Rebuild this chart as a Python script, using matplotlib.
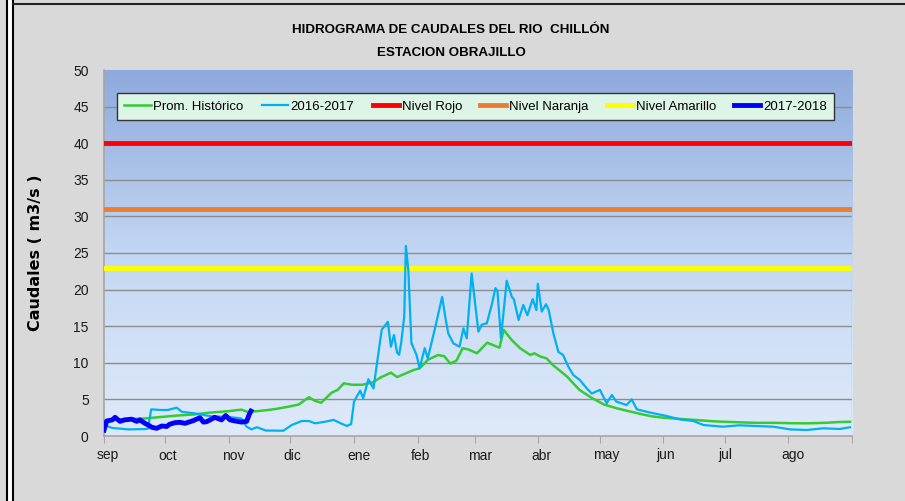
import matplotlib
matplotlib.use("Agg")
import matplotlib.pyplot as plt
import numpy as np
import matplotlib.transforms as mtransforms
from matplotlib.lines import Line2D
from matplotlib.patches import Rectangle
from matplotlib.colors import LinearSegmentedColormap

# ---------------- data ----------------
months = ["sep", "oct", "nov", "dic", "ene", "feb", "mar", "abr", "may", "jun", "jul", "ago"]
month_start_day = [0, 30, 61, 91, 122, 153, 181, 212, 242, 273, 303, 334, 365]

hist_day = [0, 5, 12, 20, 28, 36, 44, 52, 61, 67, 70, 75, 80, 85, 90, 95, 100, 103, 106, 111,
            114, 117, 121, 126, 131, 135, 140, 143, 148, 151, 154, 158, 163, 166, 169, 172,
            175, 178, 182, 187, 190, 193, 195, 199, 203, 208, 210, 213, 216, 219, 223, 226,
            232, 238, 244, 250, 255, 262, 267, 273, 280, 288, 298, 310, 318, 327, 335, 343,
            352, 358, 364]
hist_val = [1.95, 2.2, 2.3, 2.4, 2.6, 2.8, 2.95, 3.2, 3.4, 3.6, 3.3, 3.4, 3.55, 3.75, 4.0, 4.3,
            5.3, 4.8, 4.55, 5.9, 6.3, 7.2, 7.0, 7.0, 7.3, 8.0, 8.65, 8.05, 8.65, 9.0, 9.25, 10.4,
            11.07, 10.9, 9.9, 10.3, 12.0, 11.8, 11.3, 12.75, 12.4, 12.07, 14.5, 13.1, 12.0,
            11.07, 11.3, 10.85, 10.6, 9.7, 8.8, 8.1, 6.3, 5.2, 4.3, 3.8, 3.46, 3.0, 2.7, 2.5,
            2.35, 2.2, 2.0, 1.87, 1.8, 1.8, 1.75, 1.73, 1.8, 1.9, 1.95]

y1617_day = [0, 4, 8, 12, 20, 21.5, 23, 28, 31, 35.5, 38, 44, 52, 61, 67, 69.6, 72, 74.5, 79,
             87.5, 91.6, 96.5, 100, 103, 108, 112, 115, 118.5, 120.6, 122, 125, 126.5, 129,
             131.5, 135.5, 138.5, 140, 141.5, 143, 144, 145, 146.5, 147.3, 148.5, 150, 152.5,
             154, 156.5, 158, 161.5, 165, 166.5, 168, 170.5, 173.5, 175.4, 177, 179.4, 182.7,
             184.3, 186.8, 189.2, 191, 192, 193.7, 196.5, 199, 200, 202.3, 204.6, 206.6, 209.2,
             211, 211.7, 213.6, 215.7, 217, 219.3, 221.7, 224, 226.6, 229, 232.2, 235.6, 238,
             242, 245.3, 247.8, 250, 255, 257.5, 260, 266.5, 274.6, 281, 287.6, 292.5, 302,
             310, 326.6, 334.8, 343, 351, 359, 364]
y1617_val = [1.5, 1.1, 1.0, 0.9, 0.95, 1.0, 3.64, 3.55, 3.55, 3.87, 3.3, 3.1, 2.7, 2.6, 2.4,
             1.27, 0.9, 1.2, 0.75, 0.72, 1.5, 2.05, 2.05, 1.73, 1.95, 2.2, 1.8, 1.37, 1.64, 4.7,
             6.2, 5.15, 7.75, 6.5, 14.5, 15.6, 12.2, 13.8, 11.4, 11.1, 12.7, 16.3, 25.96, 22.7,
             12.7, 11.07, 9.25, 12.0, 10.6, 14.7, 19.0, 16.3, 14.0, 12.65, 12.2, 14.7, 13.35,
             22.2, 14.25, 15.2, 15.4, 17.9, 20.2, 19.8, 13.35, 21.2, 19.0, 18.7, 15.85, 17.9,
             16.5, 18.7, 17.2, 20.8, 17.0, 18.0, 17.2, 14.0, 11.5, 11.07, 9.47, 8.33, 7.65,
             6.5, 5.8, 6.3, 4.47, 5.6, 4.7, 4.23, 5.0, 3.64, 3.2, 2.73, 2.27, 2.05, 1.5, 1.27,
             1.46, 1.27, 0.9, 0.82, 1.05, 0.96, 1.19]

y1718_day = [0, 1.3, 4, 5.4, 7.8, 10, 13.5, 16, 17.5, 20, 21.6, 23.3, 25.7, 28.2, 30.6, 32,
             34.6, 37, 39.5, 43.6, 46.8, 48.5, 50, 51.8, 54, 57.4, 59.4, 61.5, 64, 67.2, 69.6,
             70.8, 71.7]
y1718_val = [0.8, 2.05, 2.2, 2.55, 2.0, 2.2, 2.3, 2.0, 2.2, 1.73, 1.5, 1.19, 1.05, 1.37, 1.3,
             1.6, 1.82, 1.87, 1.73, 2.1, 2.5, 1.9, 1.95, 2.2, 2.55, 2.2, 2.8, 2.2, 2.05, 1.9,
             2.0, 2.9, 3.4]

nivel_rojo = 40
nivel_naranja = 31
nivel_amarillo = 23

# ---------------- figure ----------------
W, H = 905, 501
fig = plt.figure(figsize=(W / 100, H / 100), dpi=100)
fig.patch.set_facecolor("#d9d9d9")

def fx(px):
    return px / W

def fy(py):
    return 1 - py / H

# outer frame decorations
fig.add_artist(Rectangle((fx(7), 0), fx(5), 1, transform=fig.transFigure,
                         facecolor="white", edgecolor="none", zorder=0))
fig.add_artist(Line2D([fx(6.5), fx(6.5)], [0, 1], transform=fig.transFigure,
                      color="black", lw=1.5))
fig.add_artist(Line2D([fx(12.8), fx(12.8)], [0, 1], transform=fig.transFigure,
                      color="black", lw=1.5))
fig.add_artist(Line2D([fx(12.8), 1], [fy(3.5), fy(3.5)], transform=fig.transFigure,
                      color="#222222", lw=1.5))

ax = fig.add_axes([fx(104), fy(436), fx(852) - fx(104), fy(70) - fy(436)])
ax.set_xlim(0, 365)
ax.set_ylim(0, 50)

# gradient background
cmap = LinearSegmentedColormap.from_list("bg", ["#dfeaf9", "#c3d7f3", "#8eaadc"])
grad = np.linspace(0, 1, 256).reshape(-1, 1)
ax.imshow(grad, extent=[0, 365, 0, 50], origin="lower", aspect="auto",
          cmap=cmap, zorder=0, interpolation="bicubic")
ax.set_facecolor("#dfeaf9")

# grid
for v in range(5, 50, 5):
    ax.axhline(v, color="#8c8c8c", lw=1.0, zorder=1)

# level lines
ax.axhline(nivel_rojo, color="#ff0000", lw=3.5, zorder=3, label="Nivel Rojo")
ax.axhline(nivel_naranja, color="#ed7d31", lw=3.5, zorder=3, label="Nivel Naranja")
ax.axhline(nivel_amarillo, color="#ffff00", lw=3.5, zorder=3, label="Nivel Amarillo")

ax.plot(hist_day, hist_val, color="#33cc33", lw=1.8, zorder=4, label="Prom. Histórico")
ax.plot(y1617_day, y1617_val, color="#00b0f0", lw=1.6, zorder=5, label="2016-2017")
ax.plot(y1718_day, y1718_val, color="#0000ff", lw=3.5, zorder=6, label="2017-2018")

# axes styling
for s in ["top", "right"]:
    ax.spines[s].set_visible(False)
ax.spines["left"].set_color("#a6a6a6")
ax.spines["bottom"].set_color("#a6a6a6")
ax.spines["left"].set_linewidth(1.2)
ax.spines["bottom"].set_linewidth(1.2)
ax.axvline(365, color="#c0c0c0", lw=1.0, zorder=1)

tick_font = dict(family=["Liberation Sans", "DejaVu Sans"])
ax.set_yticks(range(0, 51, 5))
ax.set_yticklabels([str(v) for v in range(0, 51, 5)], fontsize=10, color="#1a1a1a", **tick_font)
ax.tick_params(axis="y", length=0, pad=11)
ax.set_xticks(month_start_day)
ax.set_xticklabels(months + [""], fontsize=10, color="#1a1a1a", **tick_font)
ax.tick_params(axis="x", length=5, color="#a6a6a6", pad=4, direction="out")
offset = mtransforms.ScaledTranslation(-7 / 100, 0, fig.dpi_scale_trans)
for lbl in ax.get_xticklabels():
    lbl.set_horizontalalignment("left")
    lbl.set_transform(lbl.get_transform() + offset)

ax.set_ylabel("Caudales ( m3/s )", fontsize=11.5, fontweight="bold", labelpad=22,
              family=["DejaVu Sans"])

# title
title_font = ["Liberation Sans", "DejaVu Sans"]
fig.text(fx(451), fy(30), "HIDROGRAMA DE CAUDALES DEL RIO  CHILLÓN", ha="center", va="center",
         fontsize=9.6, fontweight="bold", family=title_font)
fig.text(fx(451), fy(53), "ESTACION OBRAJILLO", ha="center", va="center",
         fontsize=9.6, fontweight="bold", family=title_font)

# legend
handles, labels = ax.get_legend_handles_labels()
order = ["Prom. Histórico", "2016-2017", "Nivel Rojo", "Nivel Naranja", "Nivel Amarillo", "2017-2018"]
hmap = dict(zip(labels, handles))
leg = fig.legend([hmap[k] for k in order], order, ncol=6, loc="lower left",
                 bbox_to_anchor=(fx(117), fy(120), fx(834) - fx(117), fy(92) - fy(120)),
                 bbox_transform=fig.transFigure, mode="expand",
                 frameon=True, fancybox=False, facecolor="#ddf5e6", edgecolor="#333333",
                 framealpha=1, handlelength=2.0, handletextpad=0.2, borderaxespad=0,
                 prop=dict(family=title_font, size=9.5), borderpad=0.55)
leg.get_frame().set_linewidth(1.0)
leg.set_zorder(10)

fig.savefig("out.png", dpi=100, facecolor=fig.get_facecolor())
